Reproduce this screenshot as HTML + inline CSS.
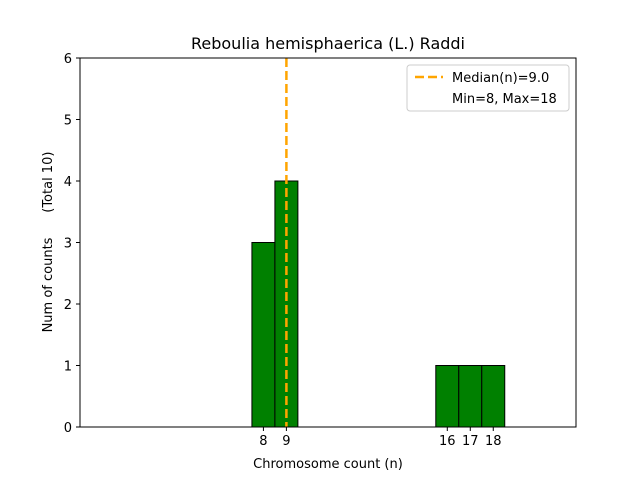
<!DOCTYPE html>
<html><head><meta charset="utf-8"><style>
body{margin:0;background:#fff;font-family:"Liberation Sans","DejaVu Sans",sans-serif;}
svg text{font-family:"DejaVu Sans","Liberation Sans",sans-serif;}
</style></head><body>
<svg id="chart" width="640" height="480" xmlns="http://www.w3.org/2000/svg">
<rect width="640" height="480" fill="#fff"/>
<text x="328" y="49" font-size="16" text-anchor="middle">Reboulia hemisphaerica (L.) Raddi</text>
<g id="bars"></g>
<g id="xticks"></g>
<g id="yticks"></g>
<line id="median" stroke="orange" stroke-width="2.5" stroke-dasharray="9,4"/>
<rect x="80" y="58" width="496" height="369" fill="none" stroke="#000" stroke-width="1"/>
<text x="328" y="468" font-size="13" text-anchor="middle">Chromosome count (n)</text>
<text transform="translate(52,242) rotate(-90)" font-size="13" text-anchor="middle" style="white-space:pre" xml:space="preserve">Num of counts      (Total 10)</text>
<g>
<rect x="407" y="65" width="162" height="46" rx="3" fill="#fff" stroke="#ccc"/>
<line x1="415" y1="77" x2="443" y2="77" stroke="orange" stroke-width="2.5" stroke-dasharray="9,4"/>
<text x="452" y="82" font-size="13">Median(n)=9.0</text>
<text x="452" y="103" font-size="13">Min=8, Max=18</text>
</g>
</svg>
<script>
const categories=[8,9,16,17,18];
const counts=[3,4,1,1,1];
const xTickLabels=[8,9,16,17,18];
const yTickLabels=[0,1,2,3,4,5,6];
const medianValue=[9.0];
const NS="http://www.w3.org/2000/svg";
const X0=80,X1=576,Y0=427,Y1=58,xmin=0.02,xmax=21.6,ymin=0,ymax=6;
const xs=v=>X0+(v-xmin)/(xmax-xmin)*(X1-X0);
const ys=v=>Y0-(v-ymin)/(ymax-ymin)*(Y0-Y1);
function mk(t,a,p){const e=document.createElementNS(NS,t);for(const k in a)e.setAttribute(k,a[k]);p.appendChild(e);return e;}
const bars=document.getElementById('bars');
categories.forEach((c,i)=>{
 const r=mk('rect',{x:xs(c-0.5),y:ys(counts[i]),width:xs(c+0.5)-xs(c-0.5),height:ys(0)-ys(counts[i]),fill:'green',stroke:'#000','stroke-width':1},bars);
 
 
});
const xt=document.getElementById('xticks');
xTickLabels.forEach(v=>{
 const l=mk('line',{x1:xs(v),x2:xs(v),y1:Y0,y2:Y0+4,stroke:'#000'},xt);
 
 
 const t=mk('text',{x:xs(v),y:Y0+18,'font-size':13,'text-anchor':'middle'},xt);t.textContent=v;
 
 
});
const yt=document.getElementById('yticks');
yTickLabels.forEach(v=>{
 const l=mk('line',{x1:X0-4,x2:X0,y1:ys(v),y2:ys(v),stroke:'#000'},yt);
 
 
 const t=mk('text',{x:X0-8,y:ys(v)+5,'font-size':13,'text-anchor':'end'},yt);t.textContent=v;
 
 
});
const m=document.getElementById('median');
m.setAttribute('x1',xs(medianValue[0]));m.setAttribute('x2',xs(medianValue[0]));
m.setAttribute('y1',Y1);m.setAttribute('y2',Y0);
</script>
</body></html>
